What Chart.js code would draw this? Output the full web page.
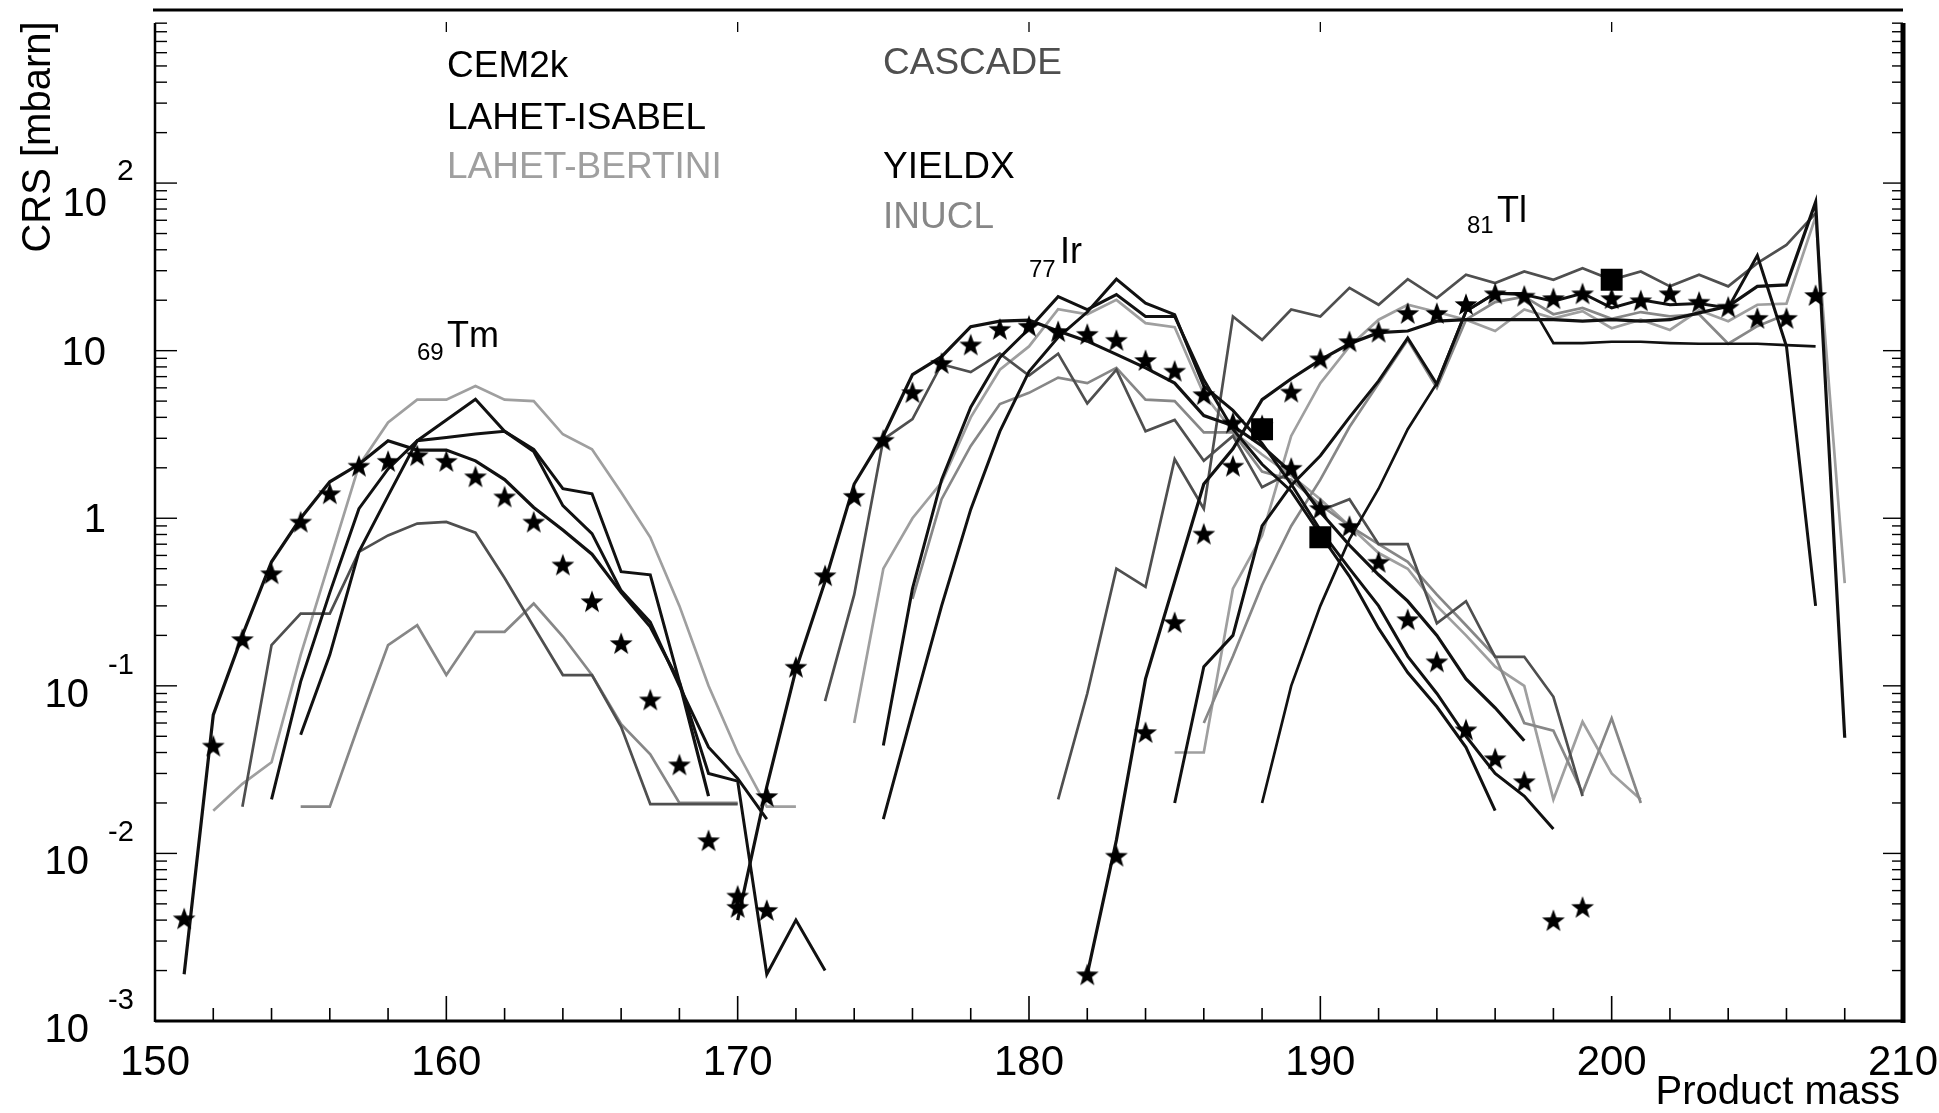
<!DOCTYPE html>
<html>
<head>
<meta charset="utf-8">
<script src="https://cdn.jsdelivr.net/npm/chart.js@4.4.1/dist/chart.umd.min.js"></script>
<style>
  html, body { margin: 0; padding: 0; background: #fff; overflow: hidden; }
  canvas { display: block; }
</style>
</head>
<body>
<canvas id="crs" width="1939" height="1113"></canvas>
<script>
// ---- Product masses per element ----
const tmMass = [151,152,153,154,155,156,157,158,159,160,161,162,163,164,165,166,167,168,169,170,171,172,173];
const irMass = [170,171,172,173,174,175,176,177,178,179,180,181,182,183,184,185,186,187,188,189,190,191,192,193,194,195,196,197,198,199,200,201];
const tlMass = [181,182,183,184,185,186,187,188,189,190,191,192,193,194,195,196,197,198,199,200,201,202,203,204,205,206,207,208];

// ---- Thulium (Z=69) cross sections [mbarn] ----
const tmExp     = [0.0041,0.044,0.19,0.47,0.955,1.41,2.06,2.2,2.38,2.2,1.78,1.35,0.955,0.53,0.32,0.18,0.083,0.034,0.012,0.0056,0.0046,null,null];
const tmCem2k   = [0.0019,0.067,0.2,0.55,1.0,1.65,2.1,2.9,2.55,2.55,2.2,1.7,1.16,0.85,0.61,0.36,0.225,0.105,0.022,null,null,null,null];
const tmIsabel  = [null,null,null,0.021,0.106,0.36,1.14,1.97,2.9,3.86,5.13,3.3,2.5,1.19,0.81,0.37,0.24,0.1,0.043,0.028,0.016,null,null];
const tmYieldx  = [null,null,null,null,0.051,0.153,0.63,1.36,2.9,3.03,3.18,3.3,2.58,1.5,1.4,0.48,0.46,0.106,0.03,0.027,0.0019,0.004,0.002];
const tmBertini = [null,0.018,0.026,0.035,0.153,0.56,2.06,3.73,5.1,5.1,6.15,5.1,5.0,3.17,2.58,1.43,0.77,0.3,0.1,0.04,0.019,0.019,null];
const tmCascade = [null,null,0.019,0.175,0.27,0.27,0.63,0.79,0.93,0.95,0.82,0.44,0.225,0.116,0.116,0.057,0.0197,0.0197,0.0197,0.0197,null,null,null];
const tmInucl   = [null,null,null,null,0.019,0.019,0.059,0.175,0.23,0.116,0.21,0.21,0.31,0.197,0.116,0.059,0.039,0.02,0.02,0.02,null,null,null];

// ---- Iridium (Z=77) ----
const irExp     = [0.0048,0.022,0.13,0.457,1.36,2.94,5.66,8.45,10.9,13.5,14.1,13.1,12.6,11.6,8.8,7.6,5.5,3.73,null,2.0,1.15,0.9,0.55,0.25,0.14,0.055,0.037,0.027,0.004,0.0048,null,null];
const irCem2k   = [0.004,0.025,0.125,0.42,1.6,3.1,7.2,9.2,13.9,15,15.2,13.1,11.4,9.5,7.9,6.4,4.1,3.56,2.7,1.88,1.09,0.69,0.46,0.32,0.2,0.11,0.074,0.047,null,null,null,null];
const irIsabel  = [null,null,null,null,null,0.044,0.38,1.7,4.6,9.1,13.5,21,17.6,21.6,16,16,6.7,3.4,2.1,1.45,0.8,0.45,0.22,0.12,0.075,0.043,0.018,null,null,null,null,null];
const irYieldx  = [null,null,null,null,null,0.016,0.07,0.3,1.13,3.3,7.5,12,17,26.7,19.2,16.4,6.15,4.4,2.8,1.6,0.85,0.5,0.3,0.15,0.09,0.05,0.03,0.022,0.014,null,null,null];
const irBertini = [null,null,null,null,0.06,0.5,1.0,1.64,4,7.7,10.6,17.7,16.5,20.1,14.6,13.8,5.5,3.3,2.4,1.8,1.3,0.9,0.62,0.5,0.3,0.2,0.13,0.1,0.021,0.061,0.03,0.021];
const irCascade = [null,null,null,0.081,0.35,2.96,3.9,8.3,7.45,9.6,7.1,9.6,4.85,7.7,3.3,3.86,2.2,3.1,1.53,1.88,1.11,1.3,0.7,0.7,0.236,0.32,0.149,0.149,0.086,0.022,null,null];
const irInucl   = [null,null,null,null,null,null,0.33,1.3,2.7,4.8,5.6,6.9,6.4,7.9,5.1,5.0,3.25,3.25,1.9,1.7,1.2,0.9,0.7,0.55,0.35,0.23,0.15,0.06,0.054,0.023,0.064,0.02];

// ---- Thallium (Z=81) ----
const tlExp     = [null,0.0019,0.0097,0.053,0.24,0.81,2.06,3.6,5.7,9,11.4,13,16.8,16.8,19,22,21.3,20.6,22,20.6,20,22,19.6,18.3,15.7,15.7,21.5,null];
const tlCem2k   = [null,0.0019,0.012,0.11,0.42,1.6,2.6,5.1,6.8,8.8,11,12.8,13.1,15,15.3,15.3,15.3,15.3,15,15.3,15,15.3,16.8,18.4,24.2,24.7,77,0.049];
const tlIsabel  = [null,null,null,null,null,null,null,0.02,0.1,0.3,0.75,1.5,3.4,6.4,17.2,22,22,11.1,11.1,11.3,11.3,11.1,11,11,11,10.8,10.6,null];
const tlYieldx  = [null,null,null,null,0.02,0.13,0.2,0.9,1.57,2.36,4,6.6,11.9,6.3,17.2,22,21.6,19.7,22,18,20.1,18.8,19.1,18,37,10.6,0.3,null];
const tlBertini = [null,null,null,null,0.04,0.04,0.38,0.79,3.1,6.4,10.6,15.3,18.8,17,15.3,13.1,17.6,15.6,17.2,13.6,15.3,13.3,17.4,15,18.8,19.1,63,0.41];
const tlCascade = [0.021,0.09,0.5,0.39,2.25,1.14,16,11.6,17.6,16,23.7,18.8,26.7,20.6,28.4,25.3,29.7,26.5,31,26.5,29.7,24.2,28.4,24.2,33.3,42.8,66,null];
const tlInucl   = [null,null,null,null,null,0.06,0.15,0.4,0.9,1.7,3.5,6.4,11.6,6.0,15.3,19.5,21,16.5,18,15.5,17,16,16.5,11,14,16.5,null,null];

// ---- Second experimental set (squares) ----
const sqMass  = [188, 190, 200];
const sqValue = [3.4, 0.77, 26.5];

// ---- Axis ticks and labels ----
const xTickValues = [150, 160, 170, 180, 190, 200, 210];
const xTickLabels = ['150', '160', '170', '180', '190', '200', '210'];
const yTickValues = [100, 10, 1, 0.1, 0.01, 0.001];
const yTickBase   = ['10', '10', '1', '10', '10', '10'];
const yTickExp    = ['2', '', '', '-1', '-2', '-3'];

// ---- Model names and their ink ----
const modelNames  = ['CEM2k', 'LAHET-ISABEL', 'LAHET-BERTINI', 'CASCADE', 'YIELDX', 'INUCL'];
const modelColors = ['#111111', '#111111', '#9f9f9f', '#4f4f4f', '#111111', '#878787'];

const FONT = '"Liberation Sans", Arial, Helvetica, sans-serif';

// filled five-pointed star used as the marker of measured values
function makeStar(R, r, color) {
  const c = document.createElement('canvas');
  const s = Math.ceil(2 * R + 2);
  c.width = s; c.height = s;
  const g = c.getContext('2d');
  g.translate(s / 2, s / 2 + R * 0.1);
  g.beginPath();
  for (let k = 0; k < 10; k++) {
    const rad = k % 2 === 0 ? R : r;
    const ang = -Math.PI / 2 + k * Math.PI / 5;
    const px = rad * Math.cos(ang), py = rad * Math.sin(ang);
    if (k === 0) g.moveTo(px, py); else g.lineTo(px, py);
  }
  g.closePath();
  g.fillStyle = color;
  g.fill();
  return c;
}
const starMark = makeStar(12, 4.9, '#000');

function pts(masses, vals) {
  return masses.map((m, i) => ({ x: m, y: vals[i] }));
}
function curve(masses, vals, model, width) {
  return {
    data: pts(masses, vals),
    borderColor: modelColors[model],
    borderWidth: width,
    pointRadius: 0,
    showLine: true,
    fill: false,
    spanGaps: false,
    tension: 0
  };
}
function markers(masses, vals, style, radius) {
  return {
    data: pts(masses, vals),
    showLine: false,
    pointStyle: style,
    pointRadius: radius,
    backgroundColor: '#000',
    borderColor: '#000',
    borderWidth: 0
  };
}

// first datasets are painted last (on top)
const datasets = [
  markers(sqMass, sqValue, 'rect', 15.5),
  markers(tmMass, tmExp, starMark, 10),
  markers(irMass, irExp, starMark, 10),
  markers(tlMass, tlExp, starMark, 10),
  curve(tmMass, tmCem2k, 0, 3.2), curve(irMass, irCem2k, 0, 3.2), curve(tlMass, tlCem2k, 0, 3.2),
  curve(tmMass, tmIsabel, 1, 3), curve(irMass, irIsabel, 1, 3), curve(tlMass, tlIsabel, 1, 2.7),
  curve(tmMass, tmYieldx, 4, 3), curve(irMass, irYieldx, 4, 3), curve(tlMass, tlYieldx, 4, 3),
  curve(tmMass, tmCascade, 3, 2.7), curve(irMass, irCascade, 3, 2.7), curve(tlMass, tlCascade, 3, 2.7),
  curve(tmMass, tmInucl, 5, 2.7), curve(irMass, irInucl, 5, 2.7), curve(tlMass, tlInucl, 5, 2.7),
  curve(tmMass, tmBertini, 2, 2.7), curve(irMass, irBertini, 2, 2.7), curve(tlMass, tlBertini, 2, 2.7)
];

function seg(ctx, x1, y1, x2, y2) {
  ctx.beginPath(); ctx.moveTo(x1, y1); ctx.lineTo(x2, y2); ctx.stroke();
}

// axes frame, ticks, labels and annotations
const framePlugin = {
  id: 'frame',
  afterDraw(chart) {
    const ctx = chart.ctx;
    const a = chart.chartArea;
    const xs = chart.scales.x, ys = chart.scales.y;
    ctx.save();
    ctx.strokeStyle = '#000';
    ctx.fillStyle = '#000';
    ctx.lineCap = 'butt';

    // frame lines
    ctx.lineWidth = 3;
    seg(ctx, a.left - 2, 10, a.right, 10);
    seg(ctx, a.left, a.bottom, a.right + 2, a.bottom);
    ctx.lineWidth = 2.5;
    seg(ctx, a.left, 23, a.left, a.bottom + 1);
    ctx.lineWidth = 5;
    seg(ctx, a.right, 23, a.right, a.bottom + 2);

    // bottom ticks every 2 mass units
    ctx.lineWidth = 1.6;
    for (let m = 150; m <= 210; m += 2) {
      const px = xs.getPixelForValue(m);
      const len = (m % 10 === 0) ? 25 : 13;
      seg(ctx, px, a.bottom, px, a.bottom - len);
    }
    // small ticks under the top line
    ctx.lineWidth = 1.3;
    for (let m = 160; m <= 200; m += 10) {
      const px = xs.getPixelForValue(m);
      seg(ctx, px, 22, px, 32);
    }
    // log ticks on both vertical axes
    ctx.lineWidth = 1.4;
    for (let d = -3; d <= 2; d++) {
      for (let k = 1; k <= 9; k++) {
        const v = k * Math.pow(10, d);
        const py = ys.getPixelForValue(v);
        const major = k === 1;
        seg(ctx, a.left, py, a.left + (major ? 22 : 12), py);
        seg(ctx, a.right, py, a.right - (major ? 20 : 11), py);
      }
    }

    // x tick labels
    ctx.font = '42px ' + FONT;
    ctx.textAlign = 'center';
    ctx.textBaseline = 'alphabetic';
    xTickValues.forEach((v, i) => {
      ctx.fillText(xTickLabels[i], xs.getPixelForValue(v), 1075);
    });

    // y tick labels: base and exponent
    yTickValues.forEach((v, i) => {
      const py = ys.getPixelForValue(v);
      const e = yTickExp[i];
      ctx.textAlign = 'right';
      ctx.font = '40px ' + FONT;
      if (e === '') {
        ctx.fillText(yTickBase[i], 106, py + 14);
      } else if (e.charAt(0) === '-') {
        ctx.fillText(yTickBase[i], 89, py + 21);
        ctx.textAlign = 'left';
        ctx.font = '29px ' + FONT;
        ctx.fillText(e, 108, py - 12);
      } else {
        ctx.fillText(yTickBase[i], 107, py + 33);
        ctx.textAlign = 'left';
        ctx.font = '30px ' + FONT;
        ctx.fillText(e, 117, py - 3);
      }
    });

    // axis titles
    ctx.textAlign = 'right';
    ctx.font = '40px ' + FONT;
    ctx.fillText('Product mass', 1900, 1104);
    ctx.save();
    ctx.translate(50, 137);
    ctx.rotate(-Math.PI / 2);
    ctx.textAlign = 'center';
    ctx.fillText('CRS [mbarn]', 0, 0);
    ctx.restore();

    // model names
    ctx.textAlign = 'left';
    ctx.font = '37px ' + FONT;
    const namePos = [[447, 77], [447, 129], [447, 178], [883, 74], [883, 178], [883, 228]];
    modelNames.forEach((n, i) => {
      ctx.fillStyle = modelColors[i] === '#111111' ? '#000' : modelColors[i];
      ctx.fillText(n, namePos[i][0], namePos[i][1]);
    });

    // element labels
    ctx.fillStyle = '#000';
    const elems = [['69', 'Tm', 417, 360, 447, 347], ['77', 'Ir', 1029, 277, 1060, 263], ['81', 'Tl', 1467, 233, 1497, 222]];
    elems.forEach(el => {
      ctx.font = '24px ' + FONT;
      ctx.fillText(el[0], el[2], el[3]);
      ctx.font = '36px ' + FONT;
      ctx.fillText(el[1], el[4], el[5]);
    });
    ctx.restore();
  }
};

new Chart(document.getElementById('crs').getContext('2d'), {
  type: 'line',
  data: { datasets },
  options: {
    responsive: false,
    animation: false,
    devicePixelRatio: 1,
    events: [],
    layout: { padding: { left: 155, right: 36, top: 12, bottom: 92 } },
    plugins: { legend: { display: false }, tooltip: { enabled: false } },
    scales: {
      x: { type: 'linear', min: 150, max: 210, display: false },
      y: { type: 'logarithmic', min: 0.001, max: 1000, display: false }
    },
    elements: { line: { tension: 0, borderJoinStyle: 'miter' } }
  },
  plugins: [framePlugin]
});
</script>
</body>
</html>
